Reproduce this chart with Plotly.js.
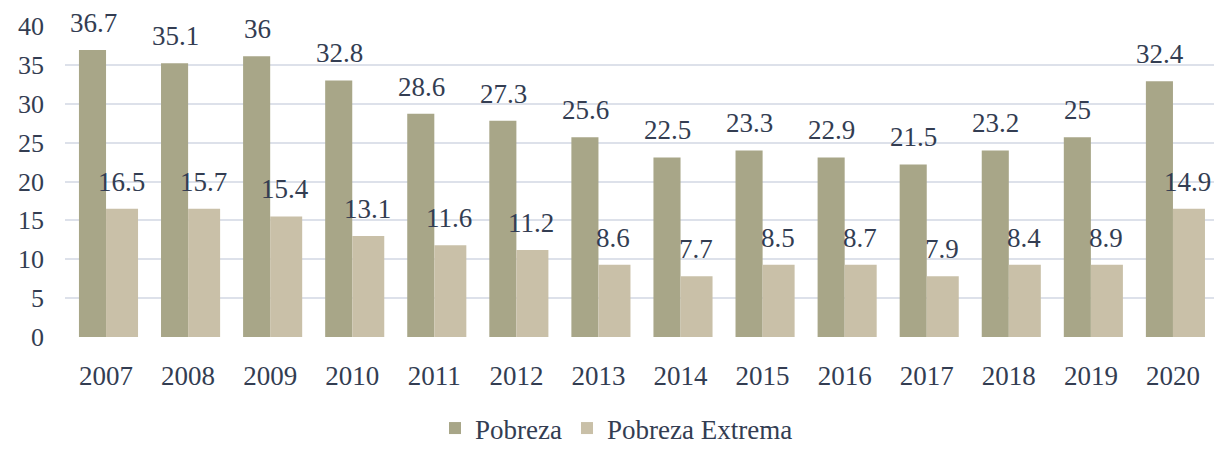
<!DOCTYPE html>
<html>
<head>
<meta charset="utf-8">
<script src="https://cdn.plot.ly/plotly-3.0.1.min.js"></script>
<style>html,body{margin:0;padding:0;background:#fff;}#chart{width:1214px;height:453px;}</style>
</head>
<body>
<div id="chart"></div>
<script>
var years = ['2007','2008','2009','2010','2011','2012','2013','2014','2015','2016','2017','2018','2019','2020'];
// bar heights as drawn in the picture
var pobreza = [36.9, 35.2, 36.1, 33.0, 28.7, 27.8, 25.7, 23.1, 24.0, 23.1, 22.2, 24.0, 25.7, 32.9];
var pobrezaExtrema = [16.5, 16.5, 15.5, 13.0, 11.8, 11.2, 9.3, 7.8, 9.3, 9.3, 7.8, 9.3, 9.3, 16.5];
// printed value labels
var pobrezaLabels = ['36.7','35.1','36','32.8','28.6','27.3','25.6','22.5','23.3','22.9','21.5','23.2','25','32.4'];
var extremaLabels = ['16.5','15.7','15.4','13.1','11.6','11.2','8.6','7.7','8.5','8.7','7.9','8.4','8.9','14.9'];
var yTicks = [0,5,10,15,20,25,30,35,40];

var txtColor = '#333d52';
var font = '"Liberation Serif", "Times New Roman", Tinos, serif';

var traces = [
  {type:'bar', name:'Pobreza', x:years, y:pobreza, width:0.33, offset:-0.33,
   marker:{color:'#a8a688'}, hoverinfo:'none'},
  {type:'bar', name:'Pobreza Extrema', x:years, y:pobrezaExtrema, width:0.39, offset:0,
   marker:{color:'#c9c0a8'}, hoverinfo:'none'}
];

var annotations = [];
for (var i = 0; i < years.length; i++) {
  annotations.push({xref:'x', yref:'y', x:i, y:pobreza[i], text:pobrezaLabels[i], showarrow:false,
    xshift:-13, yshift:10, yanchor:'bottom', xanchor:'center',
    font:{family:font, size:27, color:txtColor}});
  annotations.push({xref:'x', yref:'y', x:i, y:pobrezaExtrema[i], text:extremaLabels[i], showarrow:false,
    xshift:15, yshift:10, yanchor:'bottom', xanchor:'center',
    font:{family:font, size:27, color:txtColor}});
}

var layout = {
  width:1214, height:453,
  margin:{l:65, r:0, t:26, b:109},
  paper_bgcolor:'#ffffff', plot_bgcolor:'#ffffff',
  barmode:'overlay',
  font:{family:font, color:txtColor, size:26},
  xaxis:{type:'category', range:[-0.5,13.5], showgrid:false, zeroline:false, showline:false,
    ticks:'', ticklabelstandoff:20, tickfont:{family:font, size:27, color:txtColor}},
  yaxis:{range:[0,40], tickvals:yTicks, showgrid:true, gridcolor:'#dde1ea', gridwidth:2,
    zeroline:false, showline:false, ticks:'', ticklabelstandoff:20,
    tickfont:{family:font, size:26, color:txtColor}},
  showlegend:true,
  legend:{orientation:'h', x:0.48, xanchor:'center', y:-0.295, yanchor:'middle',
    font:{family:font, size:27, color:txtColor}, itemsizing:'constant', traceorder:'normal'},
  annotations:annotations
};

Plotly.newPlot('chart', traces, layout, {displayModeBar:false});
</script>
</body>
</html>
